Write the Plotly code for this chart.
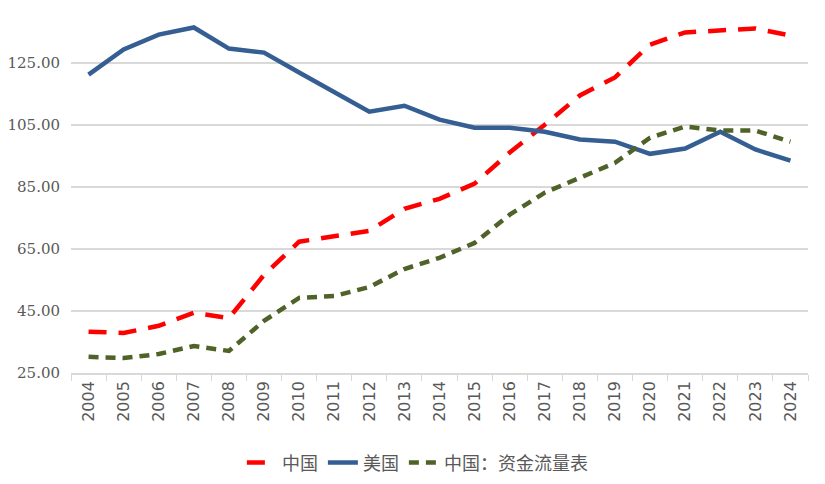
import plotly.graph_objects as go

years = [str(y) for y in range(2004, 2025)]
china = [38.3, 37.9, 40.2, 44.4, 42.7, 56.6, 67.3, 68.9, 70.8, 77.9, 81.1, 86.0,
         96.0, 105.0, 114.4, 120.2, 130.8, 134.7, 135.3, 136.0, 133.7]
usa = [121.1, 129.2, 134.0, 136.3, 129.5, 128.2, 121.8, 115.3, 109.2, 111.1, 106.6,
       104.0, 104.0, 102.7, 100.2, 99.5, 95.6, 97.3, 102.7, 97.0, 93.4]
china_ff = [30.2, 29.8, 31.1, 33.7, 32.1, 41.8, 49.2, 49.8, 52.7, 58.5, 62.1, 66.9,
            76.0, 83.1, 87.9, 92.7, 100.8, 104.4, 103.1, 103.1, 99.5]
names = ["中国", "美国", "中国：资金流量表"]

fig = go.Figure()
fig.add_trace(go.Scatter(x=years, y=china, name=names[0], mode="lines",
                         line=dict(color="#FF0000", width=4.5, dash="18px,12px")))
fig.add_trace(go.Scatter(x=years, y=usa, name=names[1], mode="lines",
                         line=dict(color="#355E92", width=4.5)))
fig.add_trace(go.Scatter(x=years, y=china_ff, name=names[2], mode="lines",
                         line=dict(color="#4F6228", width=4.5, dash="10px,7px")))

fig.update_layout(
    width=825, height=484,
    margin=dict(l=63, r=25, t=8, b=119, autoexpand=False),
    paper_bgcolor="white", plot_bgcolor="white",
    showlegend=True,
    legend=dict(orientation="h", x=0.47, xanchor="center", y=-0.2, yanchor="top",
                font=dict(family="Noto Sans CJK SC", size=18, color="#595959"),
                itemwidth=30, tracegroupgap=0),
    xaxis=dict(type="category", range=[-0.5, 20.5], tickangle=-90, tickson="boundaries",
               ticks="outside", ticklen=6, tickcolor="#D9D9D9",
               showline=True, linecolor="#D9D9D9", linewidth=1.5,
               showgrid=False, automargin=False,
               tickfont=dict(family="DejaVu Sans", size=16, color="#595959")),
    yaxis=dict(range=[25, 140], tick0=25, dtick=20, tickformat=".2f",
               showgrid=True, gridcolor="#D9D9D9", gridwidth=1.5,
               zeroline=False, showline=False, automargin=False,
               ticklabelstandoff=10,
               tickfont=dict(family="DejaVu Serif", size=15, color="#595959")),
)
fig.write_html("out.html")
